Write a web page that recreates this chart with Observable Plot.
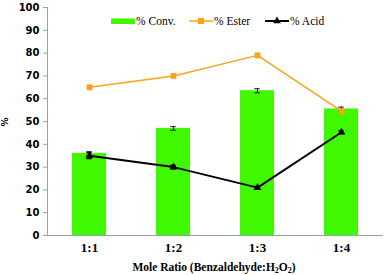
<!DOCTYPE html>
<html><head><meta charset="utf-8">
<script src="https://cdn.jsdelivr.net/npm/d3@7"></script>
<script src="https://cdn.jsdelivr.net/npm/@observablehq/plot@0.6"></script>
<style>
body{margin:0;background:#fff;}
#wrap{position:relative;width:384px;height:275px;}
g[aria-label="y-axis tick"] path{stroke:#8fa3b4;}
g[aria-label="x-axis tick"] path{stroke:none;}
</style></head><body><div id="wrap"></div>
<script>
const ratios = ["1:1", "1:2", "1:3", "1:4"];
const conv = [36, 47, 63.5, 55.5];
const convErr = [0.8, 0.8, 0.9, 0.8];
const ester = [65, 70, 79, 54.5];
const acid = [35, 30, 21, 45.3];
const acidErr = [1.3, 0.8, 0.6, 0.6];
const yTicks = [0, 10, 20, 30, 40, 50, 60, 70, 80, 90, 100];
const seriesNames = ["% Conv.", "% Ester", "% Acid"];
const colors = ["#40f900", "#ffa21a", "#000000"];
const axisColor = "#8fa3b4";

const rows = ratios.map((r, i) => ({ratio: r, conv: conv[i], convErr: convErr[i], ester: ester[i], acid: acid[i], acidErr: acidErr[i]}));

const capW = 14.3;
const plot = Plot.plot({
  width: 384, height: 275,
  marginLeft: 47, marginRight: 1, marginTop: 7, marginBottom: 40,
  style: {fontFamily: "DejaVu Sans", background: "#fff", color: "#000"},
  x: {domain: ratios, paddingInner: 0.6, paddingOuter: 0.3, label: null},
  y: {domain: [0, 100], label: null},
  marks: [
    Plot.barY(rows, {x: "ratio", y: "conv", fill: colors[0]}),
    Plot.ruleX(rows, {x: "ratio", y1: d => d.conv - d.convErr, y2: d => d.conv + d.convErr, stroke: "#333", strokeWidth: 1.2}),
    Plot.tickY(rows, {x: "ratio", y: d => d.conv + d.convErr, insetLeft: capW, insetRight: capW, stroke: "#333", strokeWidth: 1.2}),
    Plot.tickY(rows, {x: "ratio", y: d => d.conv - d.convErr, insetLeft: capW, insetRight: capW, stroke: "#333", strokeWidth: 1.2}),
    Plot.ruleX(rows, {x: "ratio", y1: d => d.acid - d.acidErr, y2: d => d.acid + d.acidErr, stroke: "#000", strokeWidth: 1.2}),
    Plot.tickY(rows, {x: "ratio", y: d => d.acid + d.acidErr, insetLeft: capW, insetRight: capW, stroke: "#000", strokeWidth: 1.2}),
    Plot.tickY(rows, {x: "ratio", y: d => d.acid - d.acidErr, insetLeft: capW, insetRight: capW, stroke: "#000", strokeWidth: 1.2}),
    Plot.lineY(rows, {x: "ratio", y: "ester", stroke: colors[1], strokeWidth: 1.5}),
    Plot.dot(rows, {x: "ratio", y: "ester", symbol: "square", fill: colors[1], r: 3.3}),
    Plot.lineY(rows, {x: "ratio", y: "acid", stroke: colors[2], strokeWidth: 2}),
    Plot.dot(rows, {x: "ratio", y: "acid", symbol: "triangle", fill: colors[2], r: 2.9}),
    Plot.frame({anchor: "left", stroke: axisColor}),
    Plot.ruleY([0], {stroke: axisColor}),
    Plot.axisY({ticks: yTicks, tickSize: 4, tickPadding: 4, fontWeight: "bold", fontSize: 10, fontFamily: "DejaVu Sans", label: null}),
    Plot.axisX({tickSize: 0, tickPadding: 7, fontWeight: "bold", fontSize: 13, fontFamily: "Liberation Serif", label: null})
  ]
});
document.getElementById("wrap").appendChild(plot);

const svg = d3.select(plot);
// y axis title
svg.append("text").attr("transform", "translate(8,122) rotate(-90)")
  .attr("text-anchor", "middle").attr("font-family", "DejaVu Sans").attr("font-weight", "bold")
  .attr("font-size", 9).text("%");
// x axis title
const xt = svg.append("text").attr("x", 214).attr("y", 271).attr("text-anchor", "middle")
  .attr("font-family", "Liberation Serif").attr("font-weight", "bold").attr("font-size", 11.5);
xt.append("tspan").text("Mole Ratio (Benzaldehyde:H");
xt.append("tspan").attr("font-size", 8).attr("dy", 2).text("2");
xt.append("tspan").attr("dy", -2).text("O");
xt.append("tspan").attr("font-size", 8).attr("dy", 2).text("2");
xt.append("tspan").attr("dy", -2).text(")");
// legend
const lg = svg.append("g").attr("font-family", "Liberation Serif").attr("font-size", 11.5).attr("text-anchor", "start");
const lx = [111, 189, 265];
lg.append("rect").attr("x", lx[0]).attr("y", 18.5).attr("width", 24).attr("height", 5.5).attr("fill", colors[0]);
lg.append("line").attr("x1", lx[1]).attr("x2", lx[1] + 24).attr("y1", 21).attr("y2", 21).attr("stroke", colors[1]).attr("stroke-width", 1.5);
lg.append("path").attr("d", d3.symbol(d3.symbolSquare, 36)()).attr("transform", `translate(${lx[1] + 12},21)`).attr("fill", colors[1]);
lg.append("line").attr("x1", lx[2]).attr("x2", lx[2] + 24).attr("y1", 21).attr("y2", 21).attr("stroke", colors[2]).attr("stroke-width", 2);
lg.append("path").attr("d", d3.symbol(d3.symbolTriangle, 26)()).attr("transform", `translate(${lx[2] + 12},21)`).attr("fill", colors[2]);
seriesNames.forEach((n, i) => {
  lg.append("text").attr("x", lx[i] + 25).attr("y", 25).attr("text-anchor", "start").text(n);
});
</script></body></html>
